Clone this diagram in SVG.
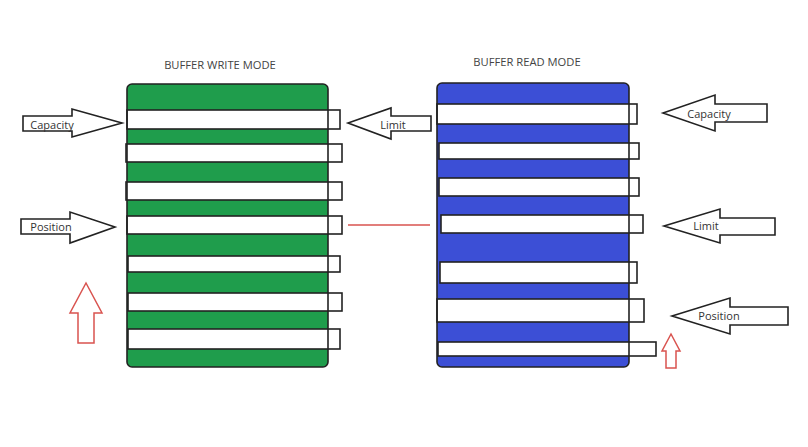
<svg xmlns="http://www.w3.org/2000/svg" width="808" height="447" viewBox="0 0 808 447">
<style>
.title{font-family:"Open Sans","Liberation Sans",sans-serif;font-size:11.2px;fill:#444;text-anchor:middle}
.lbl{font-family:"Open Sans","Liberation Sans",sans-serif;font-size:11px;fill:#333;text-anchor:middle}
.bar{fill:#fff;stroke:#222;stroke-width:1.6}
.edge{fill:none;stroke:#222;stroke-width:1.6}
.arrow{fill:#fff;stroke:#222;stroke-width:1.6;stroke-linejoin:miter}
.red{fill:#fff;stroke:#d9534f;stroke-width:1.5}
</style>
<rect width="808" height="447" fill="#fff"/>
<g id="write-buffer">
<text class="title" x="220" y="69">BUFFER WRITE MODE</text>
<rect x="127" y="84" width="201" height="283" rx="5" fill="#1f9d4c"/>
<rect class="bar" x="127" y="110" width="213" height="19"/>
<rect class="bar" x="126" y="144" width="216" height="18"/>
<rect class="bar" x="126" y="182" width="216" height="18"/>
<rect class="bar" x="127" y="216" width="215" height="18"/>
<rect class="bar" x="128" y="256" width="212" height="16"/>
<rect class="bar" x="128" y="293" width="214" height="18"/>
<rect class="bar" x="128" y="329" width="212" height="20"/>
<rect class="edge" x="127" y="84" width="201" height="283" rx="5"/>
</g>
<g id="read-buffer">
<text class="title" x="527" y="66">BUFFER READ MODE</text>
<rect x="437" y="83" width="192" height="284" rx="5" fill="#3c4fd6"/>
<rect class="bar" x="437" y="104" width="200" height="20"/>
<rect class="bar" x="439" y="143" width="200" height="16"/>
<rect class="bar" x="439" y="178" width="200" height="18"/>
<rect class="bar" x="441" y="215" width="202" height="18"/>
<rect class="bar" x="440" y="262" width="197" height="21"/>
<rect class="bar" x="437" y="299" width="207" height="23"/>
<rect class="bar" x="438" y="342" width="218" height="14"/>
<rect class="edge" x="437" y="83" width="192" height="284" rx="5"/>
</g>
<g id="write-capacity">
<polygon class="arrow" points="23,116 72,116 72,109 122,123 72,137 72,131 23,131"/>
<text class="lbl" x="52" y="129">Capacity</text>
</g>
<g id="write-position">
<polygon class="arrow" points="21,219 70,219 70,212 115,227 70,243 70,234 21,234"/>
<text class="lbl" x="51" y="231">Position</text>
</g>
<g id="write-limit">
<polygon class="arrow" points="431,116 391,116 391,108 348,123 391,139 391,131 431,131"/>
<text class="lbl" x="393" y="129">Limit</text>
</g>
<g id="write-direction">
<polygon class="red" points="86,283 102,313 94,313 94,343 78,343 78,313 70,313"/>
</g>
<g id="read-capacity">
<polygon class="arrow" points="767,104 715,104 715,95 663,113 715,131 715,122 767,122"/>
<text class="lbl" x="709" y="118">Capacity</text>
</g>
<g id="read-limit">
<polygon class="arrow" points="775,218 720,218 720,209 664,226 720,243 720,235 775,235"/>
<text class="lbl" x="706" y="230">Limit</text>
</g>
<g id="read-position">
<polygon class="arrow" points="788,307 730,307 730,298 672,316 730,334 730,325 788,325"/>
<text class="lbl" x="719" y="320">Position</text>
</g>
<g id="read-direction">
<polygon class="red" points="671,334 680,351 676,351 676,368 666,368 666,351 662,351"/>
</g>
<g id="connectors">
<line x1="348" y1="225" x2="430" y2="225" stroke="#d9534f" stroke-width="1.5"/>
</g>
</svg>
